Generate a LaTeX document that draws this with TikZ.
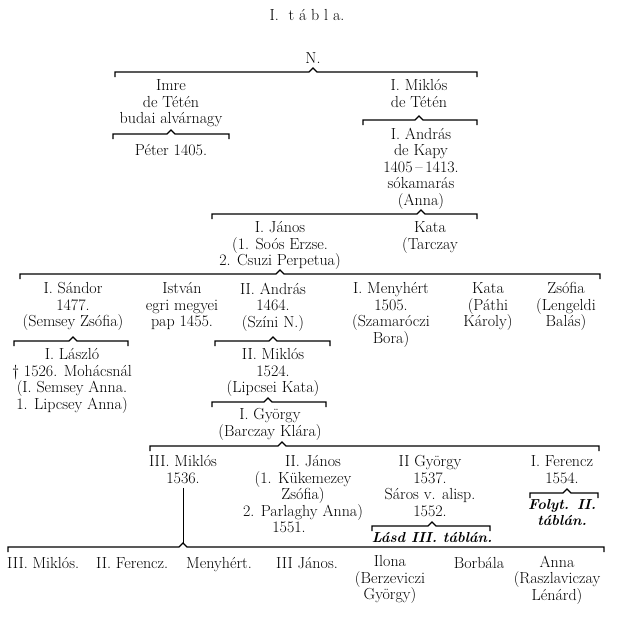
\documentclass[tikz,border=0pt]{standalone}
\usepackage{fontspec}
\usetikzlibrary{calc}

\tikzset{
  szemely/.style={align=center, anchor=north, yshift=12.5pt, inner sep=0pt,
    font=\fontsize{16}{16.5}\selectfont\addfontfeatures{FakeStretch=1.1,FakeBold=0.4},
    execute at begin node={\rule{0pt}{12.5pt}}},
  utal/.style={szemely, font=\fontsize{14.5}{15.5}\selectfont\bfseries\itshape\addfontfeatures{FakeStretch=1.1}},
  vonal/.style={line width=1.2pt, line join=miter},
}
% kapocs: [eltolas]{szulo}{y}{bal x}{jobb x}
\newcommand{\kapocs}[5][0]{%
  \draw[vonal] (#4,#3+5) -- (#4,#3) -- ($(#2 |- 0,#3)+(#1-4,0)$) -- ++(4,-4) -- ++(4,4) -- (#5,#3) -- (#5,#3+5);
}

\begin{document}
\begin{tikzpicture}[x=1pt, y=-1pt]
    \useasboundingbox (0,0) rectangle (629,637);

    % cim
    \node[szemely] (cim) at (307,20) {I.\ \ t\ á\ b\ l\ a.};

    % N. es gyermekei
    \node[szemely] (n) at (313,63) {N.};
    \kapocs{n}{72}{115}{477}
    \node[szemely] (imre) at (171,92) {Imre\\de Tétén\\budai alvárnagy};
    \node[szemely] (miklos1) at (419,92) {I. Miklós\\de Tétén};

    \kapocs{imre}{134}{113}{229}
    \node[szemely] (peter) at (171,155) {Péter 1405.};

    \kapocs{miklos1}{120}{363}{477}
    \node[szemely] (andras1) at (421,140) {I. András\\de Kapy\\1405\,--\,1413.\\sókamarás\\(Anna)};

    % I. Andras gyermekei
    \kapocs{andras1}{214}{212}{477}
    \node[szemely] (janos1) at (280,234) {I. János\\(1. Soós Erzse.\\2. Csuzi Perpetua)};
    \node[szemely] (kata1) at (430,234) {Kata\\(Tarczay};

    % I. Janos gyermekei
    \kapocs{janos1}{274}{20}{600}
    \node[szemely] (sandor1) at (73,295) {I. Sándor\\1477.\\(Semsey Zsófia)};
    \node[szemely] (istvan) at (182,295) {István\\egri megyei\\pap 1455.};
    \node[szemely] (andras2) at (273,295) {II. András\\1464.\\(Színi N.)};
    \node[szemely] (menyhert1) at (391,295) {I. Menyhért\\1505.\\(Szamaróczi\\Bora)};
    \node[szemely] (kata2) at (488,295) {Kata\\(Páthi\\Károly)};
    \node[szemely] (zsofia1) at (566,295) {Zsófia\\(Lengeldi\\Balás)};

    \kapocs{sandor1}{341}{14}{128}
    \node[szemely] (laszlo1) at (72,361) {I. László\\\textdagger\ 1526. Mohácsnál\\(I. Semsey Anna.\\1. Lipcsey Anna)};

    \kapocs{andras2}{341}{215}{330}
    \node[szemely] (miklos2) at (273,361) {II. Miklós\\1524.\\(Lipcsei Kata)};

    \kapocs[-5]{miklos2}{402}{212}{326}
    \node[szemely] (gyorgy1) at (270,421) {I. György\\(Barczay Klára)};

    % I. Gyorgy gyermekei
    \kapocs[12]{gyorgy1}{446}{150}{599}
    \node[szemely] (miklos3) at (183,468) {III. Miklós\\1536.};
    \node[szemely] (janos2) at (303,468) {\hspace*{20pt}II. János\\(1. Kükemezey\\Zsófia)\\2. Parlaghy Anna)\\1551.\hspace*{28pt}};
    \node[szemely] (gyorgy2) at (430,468) {II György\\1537.\\Sáros v. alisp.\\1552.};
    \node[szemely] (ferencz1) at (562,468) {I. Ferencz\\1554.};

    \kapocs[2]{gyorgy2}{526}{372}{490}
    \node[utal] (lasd) at (432,542) {Lásd III. táblán.};

    \kapocs[5]{ferencz1}{493}{530}{598}
    \node[utal] (folyt) at (562,512) {Folyt. II.\\táblán.};

    % III. Miklos gyermekei
    \draw[vonal, line width=1pt] ([yshift=-4pt]miklos3.south) -- (miklos3 |- 0,543);
    \kapocs{miklos3}{547}{8}{604}
    \node[szemely, anchor=north west] (miklos4) at (7,568) {III. Miklós.};
    \node[szemely, anchor=north west] (ferencz2) at (96,568) {II. Ferencz.};
    \node[szemely, anchor=north west] (menyhert2) at (186,568) {Menyhért.};
    \node[szemely, anchor=north west] (janos3) at (276,568) {III János.};
    \node[szemely] (ilona) at (390,568) {Ilona\\(Berzeviczi\\György)};
    \node[szemely] (borbala) at (479,568) {Borbála};
    \node[szemely] (anna) at (557,568) {Anna\\(Raszlaviczay\\Lénárd)};
\end{tikzpicture}
\end{document}
